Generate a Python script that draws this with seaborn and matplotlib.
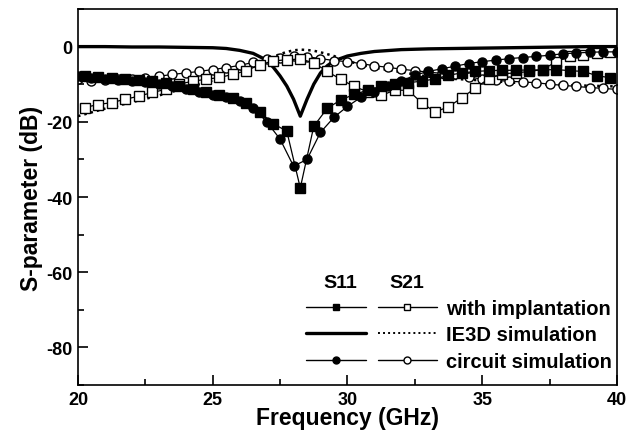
import numpy as np
import matplotlib
matplotlib.use("Agg")
import matplotlib.pyplot as plt
import seaborn as sns
from matplotlib.lines import Line2D
from matplotlib.legend_handler import HandlerTuple
from matplotlib.ticker import MultipleLocator

# frequency grids (GHz)
freq_meas = np.arange(20.25, 40.0, 0.5)
freq_circ = np.arange(20.0, 40.01, 0.5)
freq_ie3d = [20, 21, 22, 23, 24, 25, 25.5, 26, 26.5, 27, 27.25, 27.5, 27.75, 28,
             28.25, 28.5, 28.75, 29, 29.25, 29.5, 30, 30.5, 31, 32, 33, 34, 35,
             36, 37, 38, 39, 40]

# with implantation (measured)
s11_meas = [-7.8, -8.0, -8.3, -8.5, -8.8, -9.2, -9.8, -10.5, -11.2, -12.0,
            -12.8, -13.8, -15.0, -17.5, -20.5, -22.5, -37.6, -21.2, -16.4, -14.2,
            -12.7, -11.6, -10.6, -10.0, -9.6, -9.2, -8.6, -7.6, -7.0, -6.6,
            -6.4, -6.3, -6.3, -6.2, -6.2, -6.1, -6.4, -6.6, -7.7, -8.3]
s21_meas = [-16.2, -15.4, -14.9, -14.0, -13.2, -12.2, -11.4, -10.0, -9.2, -8.7,
            -8.2, -7.4, -6.4, -4.8, -3.8, -3.5, -3.3, -4.3, -6.6, -8.7,
            -10.6, -12.0, -13.0, -11.6, -11.6, -14.9, -17.4, -16.0, -13.6, -11.0,
            -8.5, -7.2, -7.0, -6.6, -6.1, -4.0, -2.6, -2.3, -1.6, -1.5]

# IE3D simulation
s11_ie3d = [0, 0, -0.1, -0.1, -0.2, -0.3, -0.5, -1.0, -1.8, -3.6, -5.5, -7.8, -10.5,
            -14.0, -18.5, -14.0, -10.0, -7.0, -5.1, -3.8, -2.5, -1.8, -1.3, -0.8,
            -0.6, -0.5, -0.4, -0.3, -0.2, -0.1, 0, 0]
s21_ie3d = [-18.5, -16.5, -14.8, -13.0, -11.0, -9.0, -8.0, -6.7, -5.2, -3.5, -2.7,
            -2.0, -1.4, -1.0, -0.8, -0.9, -1.1, -1.5, -2.0, -2.5, -3.8, -4.8, -5.6,
            -6.8, -8.0, -8.6, -9.0, -9.5, -10.0, -10.2, -10.4, -10.6]

# circuit simulation
s11_circ = [-7.9, -8.3, -8.7, -9.0, -9.2, -9.5, -10.0, -10.6, -11.4, -12.0,
            -12.8, -13.4, -14.5, -16.2, -20.0, -24.6, -31.8, -30.0, -22.8, -18.8,
            -15.9, -13.5, -12.2, -10.6, -9.2, -7.6, -6.6, -5.9, -5.2, -4.5,
            -4.0, -3.6, -3.2, -2.9, -2.6, -2.3, -1.9, -1.7, -1.5, -1.4, -1.4]
s21_circ = [-8.7, -9.2, -9.0, -8.7, -8.5, -8.3, -7.9, -7.4, -7.0, -6.6,
            -6.1, -5.6, -5.0, -4.2, -3.4, -2.9, -2.6, -2.7, -3.2, -3.7,
            -4.0, -4.5, -5.1, -5.5, -6.0, -6.4, -6.8, -7.1, -7.4, -8.0,
            -8.7, -9.0, -9.2, -9.4, -9.6, -10.0, -10.3, -10.6, -10.9, -11.1, -11.4]

row_labels = ["with implantation", "IE3D simulation", "circuit simulation"]

sns.set_style("ticks")
plt.rcParams["font.family"] = ["Liberation Sans", "DejaVu Sans"]
plt.rcParams["font.weight"] = "bold"
plt.rcParams["axes.unicode_minus"] = False
for key in ["text.color", "axes.labelcolor", "xtick.color", "ytick.color"]:
    plt.rcParams[key] = "black"

fig = plt.figure(figsize=(6.32, 4.39), dpi=100)
ax = fig.add_axes([0.1234, 0.1207, 0.8527, 0.8565])

mk = dict(markersize=6.5, markeredgewidth=1.0, markeredgecolor="black")
# IE3D curves drawn first so markers sit on top
sns.lineplot(x=freq_ie3d, y=s11_ie3d, ax=ax, color="black", linewidth=2.4)
sns.lineplot(x=freq_ie3d, y=s21_ie3d, ax=ax, color="black", linewidth=1.8,
             linestyle=(0, (1, 1.6)))
sns.lineplot(x=freq_circ, y=s21_circ, ax=ax, color="black", linewidth=0.9,
             marker="o", markerfacecolor="white", **mk)
sns.lineplot(x=freq_meas, y=s21_meas, ax=ax, color="black", linewidth=0.9,
             marker="s", markerfacecolor="white", **mk)
sns.lineplot(x=freq_circ, y=s11_circ, ax=ax, color="black", linewidth=0.9,
             marker="o", markerfacecolor="black", **mk)
sns.lineplot(x=freq_meas, y=s11_meas, ax=ax, color="black", linewidth=0.9,
             marker="s", markerfacecolor="black", **mk)

ax.set_xlim(20, 40)
ax.set_ylim(-90, 10)
ax.xaxis.set_major_locator(MultipleLocator(5))
ax.xaxis.set_minor_locator(MultipleLocator(2.5))
ax.yaxis.set_major_locator(MultipleLocator(20))
ax.yaxis.set_minor_locator(MultipleLocator(10))
ax.tick_params(which="both", direction="in", top=False, right=False,
               width=1.2, labelsize=13)
ax.tick_params(which="major", length=7, pad=4)
ax.tick_params(which="minor", length=4)
for s in ax.spines.values():
    s.set_linewidth(1.2)
    s.set_color("black")

ax.set_xlabel("Frequency (GHz)", fontsize=16.5, fontweight="bold", labelpad=-1)
ax.set_ylabel("S-parameter (dB)", fontsize=16.5, fontweight="bold", labelpad=2)

# legend: S11 and S21 samples side by side in each row
lk = dict(color="black", linewidth=1.0, markersize=5, markeredgecolor="black")
handles = [
    (Line2D([], [], marker="s", markerfacecolor="black", **lk),
     Line2D([], [], marker="s", markerfacecolor="white", **lk)),
    (Line2D([], [], color="black", linewidth=2.4),
     Line2D([], [], color="black", linewidth=1.4, linestyle=(0, (1, 1.6)))),
    (Line2D([], [], marker="o", markerfacecolor="black", **lk),
     Line2D([], [], marker="o", markerfacecolor="white", **lk)),
]
ax.legend(handles=handles, labels=row_labels,
          handler_map={tuple: HandlerTuple(ndivide=None, pad=0.6)},
          loc="lower right", bbox_to_anchor=(1.006, 0.017), borderaxespad=0,
          frameon=False, handlelength=6.5, handletextpad=0.45, labelspacing=0.36,
          prop={"size": 14.5, "weight": "bold"})
ax.text(0.486, 0.272, "S11", transform=ax.transAxes, ha="center", va="center",
        fontsize=14, fontweight="bold")
ax.text(0.610, 0.272, "S21", transform=ax.transAxes, ha="center", va="center",
        fontsize=14, fontweight="bold")

fig.savefig("out.png", dpi=100)
